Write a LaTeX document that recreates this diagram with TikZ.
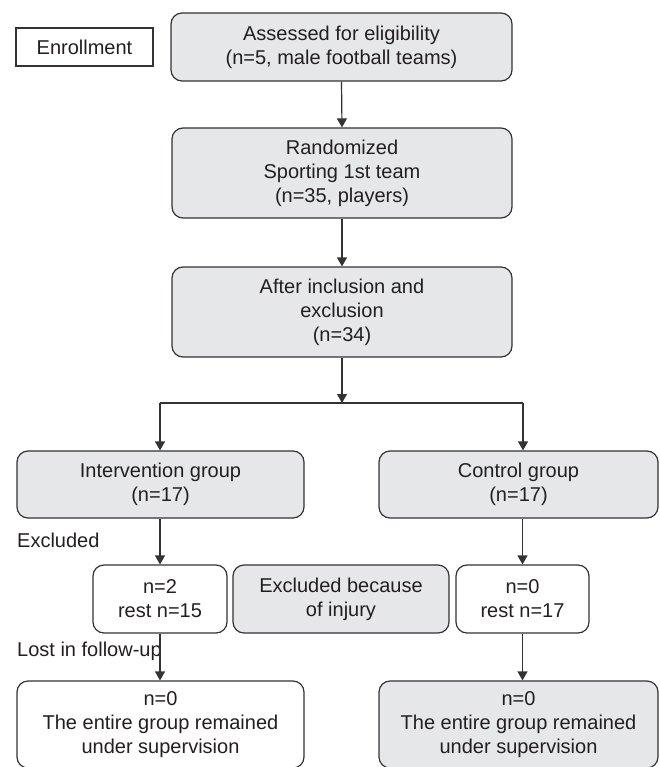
\documentclass[tikz,border=0pt]{standalone}
\usepackage{fontspec}
\setmainfont{Liberation Sans}
\usetikzlibrary{arrows.meta}
\definecolor{boxgray}{HTML}{E6E7E8}
\definecolor{linegray}{HTML}{333333}
\definecolor{txt}{HTML}{231F20}
\tikzset{
  base/.style={draw=linegray, line width=1.2pt, align=center, inner sep=0pt,
    text=txt, font=\fontsize{20}{24}\selectfont},
  graybox/.style={base, fill=boxgray, rounded corners=11pt},
  whitebox/.style={base, fill=white, rounded corners=11pt},
  plainbox/.style={base, fill=white},
  lbl/.style={anchor=west, inner sep=0pt, text=txt, font=\fontsize{20}{24}\selectfont},
  arr/.style={draw=linegray, line width=1.2pt, -{Triangle[width=10pt,length=9pt]}},
  ln/.style={draw=linegray, line width=1.2pt}
}
\begin{document}
\begin{tikzpicture}[x=1pt,y=-1pt]
\useasboundingbox (0,0) rectangle (659,767);
\node[plainbox, minimum width=137pt, minimum height=38pt] (enroll) at (84.5,47) {Enrollment};
\node[graybox, minimum width=341pt, minimum height=68pt] (assess) at (341.5,47) {Assessed for eligibility\\(n=5, male football teams)};
\node[graybox, minimum width=340pt, minimum height=90pt] (rand) at (342,173) {Randomized\\Sporting 1st team\\(n=35, players)};
\node[graybox, minimum width=340pt, minimum height=90pt] (after) at (342,312) {After inclusion and\\exclusion\\(n=34)};
\node[graybox, minimum width=287pt, minimum height=67pt] (interv) at (160.5,484.5) {Intervention group\\(n=17)};
\node[graybox, minimum width=279pt, minimum height=67pt] (ctrl) at (518.5,484.5) {Control group\\(n=17)};
\node[lbl] (excl) at (17,540) {Excluded};
\node[whitebox, minimum width=134pt, minimum height=68pt] (n2) at (160,599) {n=2\\rest n=15};
\node[graybox, minimum width=216pt, minimum height=68pt] (injury) at (341,599) {Excluded because\\of injury};
\node[whitebox, minimum width=133pt, minimum height=68pt] (n0) at (522.5,599) {n=0\\rest n=17};
\node[lbl] (lost) at (17,651) {Lost in follow-up};
\node[whitebox, minimum width=287pt, minimum height=87pt] (fin1) at (160.5,724.5) {n=0\\The entire group remained\\under supervision};
\node[graybox, minimum width=279pt, minimum height=87pt] (fin2) at (518.5,724.5) {n=0\\The entire group remained\\under supervision};
\coordinate (split) at (342,403);
\coordinate (splitL) at (160,403);
\coordinate (splitR) at (523,403);
\draw[arr] (assess.south) -- (rand.north);
\draw[arr] (rand.south) -- (after.north);
\draw[arr] (after.south) -- (split);
\draw[ln] (splitL) -- (splitR);
\draw[arr] (splitL) -- (splitL |- interv.north);
\draw[arr] (splitR) -- (splitR |- ctrl.north);
\draw[arr] (interv.south -| n2.north) -- (n2.north);
\draw[arr] (ctrl.south -| n0.north) -- (n0.north);
\draw[arr] (n2.south) -- (n2.south |- fin1.north);
\draw[arr] (n0.south) -- (n0.south |- fin2.north);
\end{tikzpicture}
\end{document}
